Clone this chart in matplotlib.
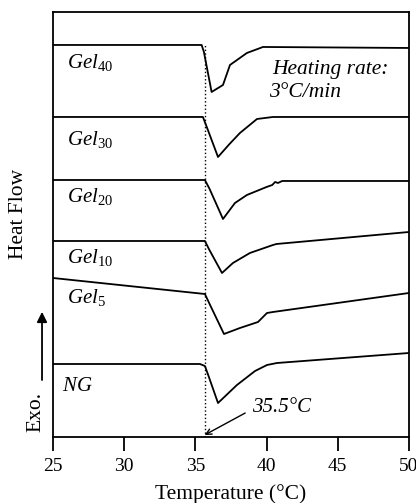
import matplotlib
matplotlib.use('Agg')
import matplotlib.pyplot as plt

plt.rcParams['font.family'] = ['Liberation Serif', 'DejaVu Serif']
plt.rcParams['mathtext.fontset'] = 'custom'
plt.rcParams['mathtext.rm'] = 'Liberation Serif'
plt.rcParams['mathtext.it'] = 'Liberation Serif:italic'

# DSC curves, temperature (C) vs heat flow (arbitrary, offset per sample)
gel40_t = [25, 35.44, 35.6, 36.14, 36.94, 37.43, 38.62, 39.75, 50]
gel40_h = [392, 392, 385, 345, 352, 372, 384, 390, 389]
gel30_t = [25, 35.53, 35.8, 36.59, 37.4, 38.13, 39.33, 40.45, 50]
gel30_h = [320, 320, 310, 280, 293, 304, 318, 320, 320]
gel20_t = [25, 35.67, 36.0, 36.94, 37.78, 38.62, 40.0, 40.4, 40.6, 40.8, 41.1, 50]
gel20_h = [257, 257, 248, 218, 234, 242, 250, 252, 255, 254, 256, 256]
gel10_t = [25, 35.67, 35.95, 36.87, 37.64, 38.83, 40.45, 40.7, 50]
gel10_h = [196, 196, 188, 164, 174, 184, 192, 193, 205]
gel5_t = [25, 35.67, 36.0, 37.01, 38.13, 39.4, 40.03, 40.45, 50]
gel5_h = [159, 143, 133, 103, 109, 115, 124, 125, 144]
ng_t = [25, 35.32, 35.67, 35.9, 36.59, 37.92, 39.19, 40.03, 40.73, 50]
ng_h = [73, 73, 71, 62, 34, 52, 66, 72, 74, 84]

curves = [(gel40_t, gel40_h), (gel30_t, gel30_h), (gel20_t, gel20_h),
          (gel10_t, gel10_h), (gel5_t, gel5_h), (ng_t, ng_h)]
labels = [r'$\mathit{Gel}_{\mathit{40}}$', r'$\mathit{Gel}_{\mathit{30}}$',
          r'$\mathit{Gel}_{\mathit{20}}$', r'$\mathit{Gel}_{\mathit{10}}$',
          r'$\mathit{Gel}_{\mathit{5}}$', r'$\mathit{NG}$']
label_x = [26.0, 26.0, 26.0, 26.0, 26.0, 25.65]
label_y = [374, 297, 240, 179, 139, 51]

onset = 35.65

fig = plt.figure(figsize=(4.16, 5.03), dpi=100)
ax = fig.add_axes([0.1274, 0.1312, 0.8556, 0.845])

for (t, h), lab, lx, ly in zip(curves, labels, label_x, label_y):
    ax.plot(t, h, color='black', lw=1.3)
    ax.text(lx, ly, lab, fontsize=15, va='center', ha='left')

ax.vlines(onset, 0, 392, colors='black', linestyles=':', lw=1.0)

ax.text(40.4, 367, 'Heating rate:', fontsize=15.5, style='italic', va='center')
ax.text(40.2, 344, '3°C/min', fontsize=15.5, style='italic', va='center')

ax.text(38.97, 30, '35.5°C', fontsize=15, style='italic', va='center', ha='left')
ax.annotate('', xy=(onset, 2), xytext=(38.5, 24),
            arrowprops=dict(arrowstyle='->', color='black', lw=1.0,
                            shrinkA=0, shrinkB=0))

ax.set_xlim(25, 50)
ax.set_ylim(0, 425)
ax.set_xticks([25, 30, 35, 40, 45, 50])
ax.set_yticks([])
ax.tick_params(axis='x', direction='out', length=10, width=1.3, labelsize=14, pad=5)
for s in ax.spines.values():
    s.set_linewidth(1.3)
ax.set_xlabel('Temperature (°C)', fontsize=15.5, labelpad=7)

fig.text(0.044, 0.575, 'Heat Flow', rotation=90, fontsize=15.5, va='center', ha='center')
fig.text(0.086, 0.18, 'Exo.', rotation=90, fontsize=15.5, va='center', ha='center')
ax.annotate('', xy=(0.101, 0.38), xytext=(0.101, 0.2445), xycoords='figure fraction',
            textcoords='figure fraction',
            arrowprops=dict(arrowstyle='-|>', color='black', lw=1.3,
                            mutation_scale=15, shrinkA=0, shrinkB=0))

fig.savefig('out.png', dpi=100)
